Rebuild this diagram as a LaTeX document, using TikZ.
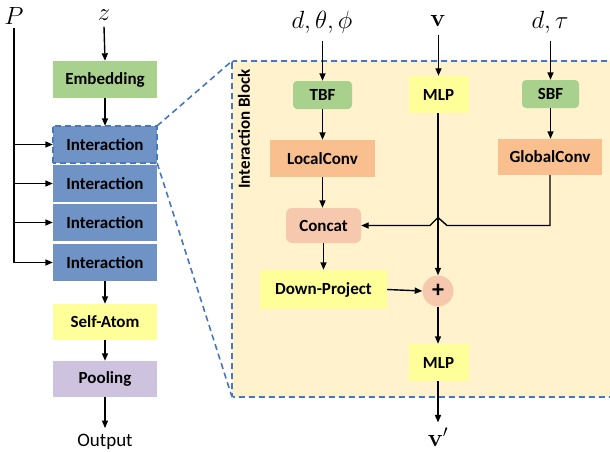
\documentclass[tikz,border=0pt]{standalone}
\usepackage[no-math]{fontspec}
\setmainfont{Carlito}
\usetikzlibrary{arrows.meta}
\definecolor{greenbox}{HTML}{A9D18E}
\definecolor{bluebox}{HTML}{7093C6}
\definecolor{yellowbox}{HTML}{FFFF99}
\definecolor{purplebox}{HTML}{CEC3DF}
\definecolor{orangebox}{HTML}{F9BF8F}
\definecolor{peach}{HTML}{F6C9AE}
\definecolor{blockfill}{HTML}{FFF2CC}
\definecolor{dashblue}{HTML}{4677C0}
\tikzset{
  lbl/.style={inner sep=0pt, font=\bfseries\fontsize{17}{19}\selectfont},
  boxw/.style={lbl, minimum width=104pt, minimum height=37pt},
  gbox/.style={lbl, fill=greenbox, rounded corners=4pt},
  ybox/.style={lbl, fill=yellowbox},
  obox/.style={lbl, fill=orangebox},
  mathlbl/.style={inner sep=0pt, font=\fontsize{25}{27}\selectfont},
  arr/.style={line width=1.4pt, -{Triangle[length=7.5pt,width=6pt]}},
  ln/.style={line width=1.4pt},
  dsh/.style={draw=dashblue, line width=1.6pt, dash pattern=on 6pt off 4pt},
}
\begin{document}
\begin{tikzpicture}[x=1pt,y=-1pt]
\useasboundingbox (0,0) rectangle (610,452);
\clip (0,0) rectangle (610,452);

% interaction block background
\draw[dsh, fill=blockfill, rounded corners=2pt] (232,61) rectangle (616,397);
\node[lbl, rotate=90] (iblabel) at (244,129) {Interaction Block};

% left column
\node[mathlbl] (P) at (14,16) {$P$};
\node[mathlbl] (z) at (104,15) {$z$};
\node[boxw, fill=greenbox] (emb) at (105,79.5) {Embedding};
\node[boxw, fill=bluebox] (int1) at (105,144.5) {Interaction};
\node[boxw, fill=bluebox] (int2) at (105,183.5) {Interaction};
\node[boxw, fill=bluebox] (int3) at (105,222.5) {Interaction};
\node[boxw, fill=bluebox] (int4) at (105,262.5) {Interaction};
\node[boxw, fill=yellowbox, minimum height=36pt] (self) at (105,322) {Self-Atom};
\node[boxw, fill=purplebox, minimum height=36pt] (pool) at (105,379) {Pooling};
\node[inner sep=0pt, font=\fontsize{19}{21}\selectfont] (out) at (105,442) {Output};

\draw[dsh] (int1.south west) rectangle (int1.north east);
\draw[dsh] (int1.north east) -- (232,61);
\draw[dsh] (int1.south east) -- (232,397);

\coordinate (Ptop) at (14,28);
\draw[ln] (Ptop) -- (Ptop |- int4.west);
\draw[arr] (Ptop |- int1.west) -- (int1.west);
\draw[arr] (Ptop |- int2.west) -- (int2.west);
\draw[arr] (Ptop |- int3.west) -- (int3.west);
\draw[arr] (Ptop |- int4.west) -- (int4.west);

\draw[arr] ([yshift=-6pt]z.south) -- (emb.north);
\draw[arr] (emb.south) -- (int1.north);
\draw[arr] (int4.south) -- (self.north);
\draw[arr] (self.south) -- (pool.north);
\draw[arr] (pool.south) -- ([yshift=6pt]out.north);

% right part
\node[mathlbl] (dtp) at (322,22) {$d,\theta,\phi$};
\node[mathlbl] (v) at (438,21) {$\mathbf{v}$};
\node[mathlbl] (dt) at (550,22) {$d,\tau$};

\node[gbox, minimum width=59pt, minimum height=28pt] (tbf) at (322.5,95) {TBF};
\node[obox, minimum width=105pt, minimum height=37pt] (local) at (322.5,158.5) {LocalConv};
\node[lbl, fill=peach, rounded corners=6pt, minimum width=75pt, minimum height=35pt] (concat) at (323.5,225.5) {Concat};
\node[ybox, minimum width=127pt, minimum height=39pt] (down) at (323.5,289.5) {Down-Project};

\node[ybox, minimum width=60pt, minimum height=37pt] (mlp1) at (438.5,94.5) {MLP};
\node[circle, fill=peach, minimum size=31pt, inner sep=0pt, font=\bfseries\fontsize{24}{24}\selectfont] (plus) at (438,291) {+};
\node[ybox, minimum width=60pt, minimum height=37pt] (mlp2) at (438.5,362.5) {MLP};
\node[mathlbl] (vp) at (438,437) {$\mathbf{v}'$};

\node[gbox, minimum width=57pt, minimum height=28pt] (sbf) at (550.5,94) {SBF};
\node[obox, minimum width=104pt, minimum height=36pt] (global) at (550,157) {GlobalConv};

\draw[arr] ([yshift=-8pt]dtp.south -| tbf.north) -- (tbf.north);
\draw[arr] (tbf.south) -- (local.north);
\draw[arr] (local.south) -- (concat.north -| local.south);
\draw[arr] (concat.south) -- (down.north -| concat.south);

\draw[arr] ([yshift=-8pt]v.south -| mlp1.north) -- (mlp1.north);
\draw[arr] (mlp1.south -| plus.north) -- (plus.north);

\draw[arr] ([yshift=-8pt]dt.south -| sbf.north) -- (sbf.north);
\draw[arr] (sbf.south) -- (global.north -| sbf.south);

\draw[arr] (global.south) |- ([xshift=9pt]plus.north |- concat.east)
  -- ([yshift=8pt]plus.north |- concat.east)
  -- ([xshift=-8pt]plus.north |- concat.east) -- (concat.east);

\draw[arr] (down.east) -- (plus.west);
\draw[arr] (plus.south) -- (mlp2.north -| plus.south);
\draw[arr] (mlp2.south -| plus.south) -- ([yshift=5pt]vp.north);
\end{tikzpicture}
\end{document}
